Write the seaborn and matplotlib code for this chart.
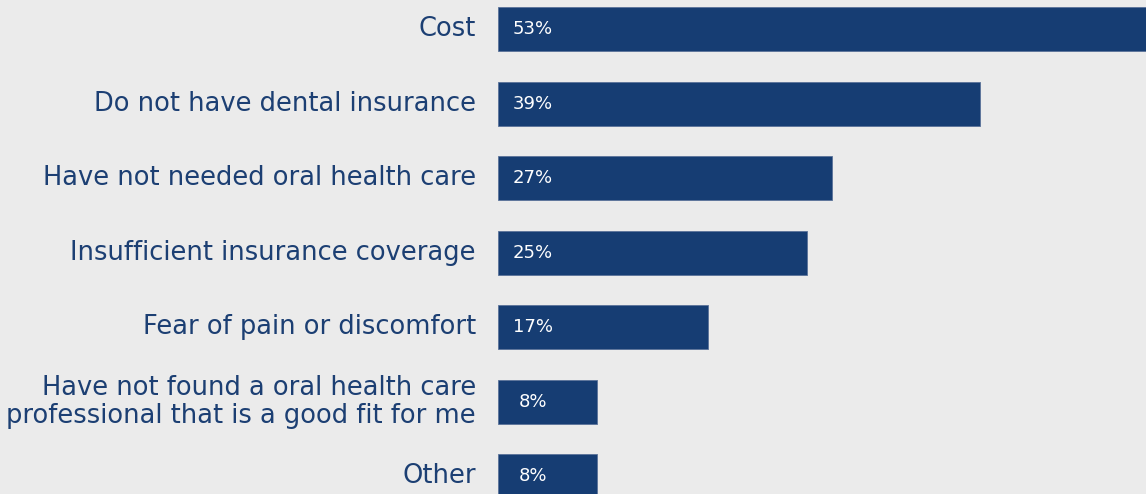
import matplotlib
matplotlib.use("Agg")
import matplotlib.pyplot as plt
import seaborn as sns
import pandas as pd

categories = [
    "Cost",
    "Do not have dental insurance",
    "Have not needed oral health care",
    "Insufficient insurance coverage",
    "Fear of pain or discomfort",
    "Have not found a oral health care\nprofessional that is a good fit for me",
    "Other",
]
values = [53, 39, 27, 25, 17, 8, 8]
value_labels = ["53%", "39%", "27%", "25%", "17%", "8%", "8%"]

BG = "#ebebeb"
NAVY = "#163d73"

sns.set_theme(style="white")
plt.rcParams["font.family"] = ["DejaVu Sans"]

df = pd.DataFrame({"reason": categories, "share": values})

fig = plt.figure(figsize=(11.46, 4.94), dpi=100, facecolor=BG)
ax = fig.add_axes([498 / 1146, 0, 1 - 498 / 1146, 1])
ax.set_facecolor(BG)

sns.barplot(data=df, x="share", y="reason", orient="h", color=NAVY,
            saturation=1, width=0.59, ax=ax, edgecolor="#5a7299", linewidth=0.6)

ax.set_xlim(0, 52.4)
ax.set_ylim(6.24, -0.39)
for s in ax.spines.values():
    s.set_visible(False)
ax.set_xlabel("")
ax.set_ylabel("")
ax.set_xticks([])
ax.tick_params(axis="y", length=0, pad=16)
ax.set_yticks(range(len(categories)))
ax.set_yticklabels(categories, fontsize=18.5, color="#1c3f73", linespacing=1.1,
                   va="center")

# percentage labels sit centred in a fixed slot near the start of each bar
for i, lab in enumerate(value_labels):
    ax.text(2.83, i, lab, color="white", fontsize=13, va="center", ha="center")

fig.savefig("out.png", dpi=100, facecolor=BG)
